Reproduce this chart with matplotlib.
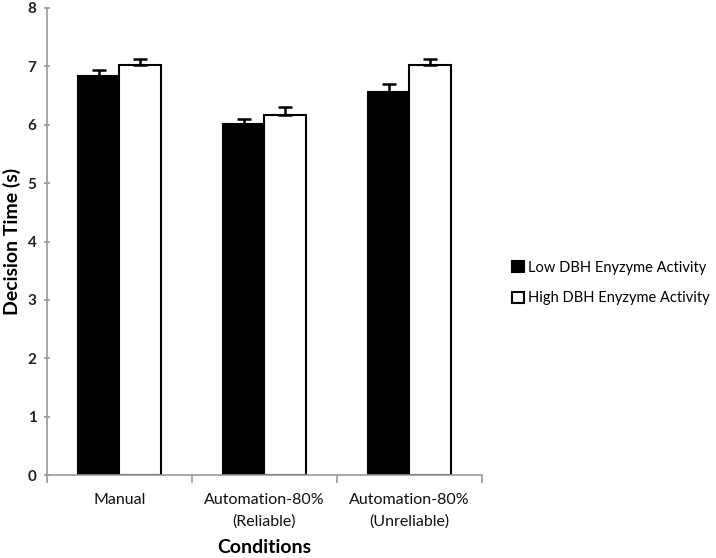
import matplotlib
matplotlib.use("Agg")
import matplotlib.pyplot as plt
import numpy as np

plt.rcParams['font.family'] = ['Lato', 'DejaVu Sans']

categories = ["Manual", "Automation-80%\n(Reliable)", "Automation-80%\n(Unreliable)"]
series_names = ["Low DBH Enyzyme Activity", "High DBH Enyzyme Activity"]
low_vals = [6.84, 6.01, 6.56]
low_err = [0.09, 0.08, 0.13]
high_vals = [7.03, 6.17, 7.03]
high_err = [0.10, 0.13, 0.10]
y_ticks = [0, 1, 2, 3, 4, 5, 6, 7, 8]

fig = plt.figure(figsize=(7.16, 5.58), dpi=100)
ax = fig.add_axes([0.0656, 0.1487, 0.6075, 0.837])

x = np.arange(len(categories))
w = 0.285
ekw = dict(elinewidth=1.8, capthick=1.8, ecolor='black')
b1 = ax.bar(x - w/2, low_vals, w, color='black', edgecolor='black', linewidth=1.5,
            yerr=[np.zeros(3), low_err], capsize=5, error_kw=ekw, label=series_names[0])
b2 = ax.bar(x + w/2, high_vals, w, color='white', edgecolor='black', linewidth=1.5,
            yerr=[np.zeros(3), high_err], capsize=5, error_kw=ekw, label=series_names[1])

ax.set_xlim(-0.5, 2.5)
ax.set_ylim(0, 8)
ax.set_yticks(y_ticks)
ax.set_yticklabels([str(t) for t in y_ticks], fontsize=11, fontweight='bold', color='#222222')
ax.set_xticks(x)
ax.set_xticklabels(categories, fontsize=11.5, color='#111111', linespacing=1.6)
ax.tick_params(axis='x', length=0, pad=13)
ax.set_xticks([-0.5, 0.5, 1.5, 2.5], minor=True)
ax.tick_params(axis='x', which='minor', length=6, color='#999999', width=1.2, direction='out')
ax.tick_params(axis='y', length=5, color='#999999', width=1.2, direction='inout', pad=5)

for s in ['top', 'right']:
    ax.spines[s].set_visible(False)
for s in ['left', 'bottom']:
    ax.spines[s].set_color('#999999')
    ax.spines[s].set_linewidth(1.2)

ax.set_ylabel("Decision Time (s)", fontsize=14, fontweight='bold', labelpad=5)
ax.set_xlabel("Conditions", fontsize=14, fontweight='bold', labelpad=8)

fig.legend(handles=[b1, b2], labels=series_names, loc='center left',
           bbox_to_anchor=(0.697, 0.493), frameon=False, fontsize=10.5,
           handlelength=0.8, handleheight=0.8, handletextpad=0.3, labelspacing=1.15)

fig.savefig("out.png", dpi=100)
